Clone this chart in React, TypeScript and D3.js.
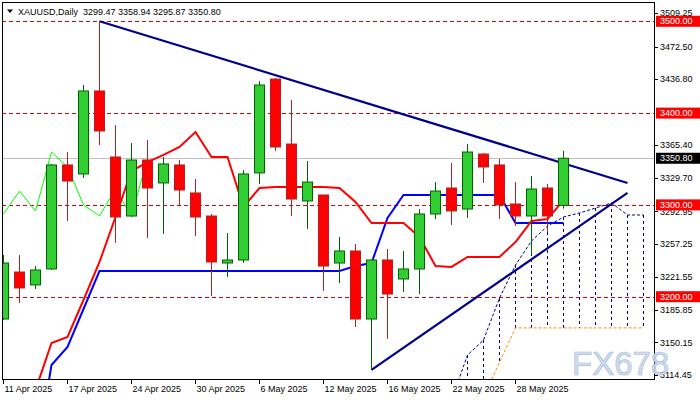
import React from "react";
import * as d3 from "d3";

// ---- data ----
const dates = [
  "2025-04-11","2025-04-14","2025-04-15","2025-04-16","2025-04-17","2025-04-21","2025-04-22","2025-04-23",
  "2025-04-24","2025-04-25","2025-04-28","2025-04-29","2025-04-30","2025-05-01","2025-05-02","2025-05-05",
  "2025-05-06","2025-05-07","2025-05-08","2025-05-09","2025-05-12","2025-05-13","2025-05-14","2025-05-15",
  "2025-05-16","2025-05-19","2025-05-20","2025-05-21","2025-05-22","2025-05-23","2025-05-26","2025-05-27",
  "2025-05-28","2025-05-29","2025-05-30","2025-06-02",
];
const open = [3175.7,3226.9,3212.8,3230.2,3343.5,3333.7,3424.1,3352.2,3287.9,3348.9,3323.9,3343.5,3313.0,3287.9,3236.7,3240.0,3334.8,3437.1,3366.3,3304.3,3310.8,3236.7,3249.8,3175.7,3240.0,3219.3,3230.2,3290.1,3318.4,3295.5,3355.4,3343.5,3301.0,3287.9,3318.4,3299.47];
const high = [3245.4,3245.4,3233.4,3344.6,3357.6,3430.6,3500.0,3387.0,3367.4,3370.7,3352.2,3348.9,3328.2,3290.1,3269.4,3338.0,3435.0,3438.2,3414.3,3347.8,3310.8,3265.0,3257.4,3240.0,3252.0,3249.8,3295.5,3324.9,3345.6,3366.3,3356.5,3350.0,3324.9,3331.5,3322.8,3358.94];
const low = [3174.6,3193.1,3208.4,3229.1,3282.5,3329.3,3365.3,3258.5,3286.8,3264.0,3268.3,3299.9,3266.1,3200.8,3221.5,3236.7,3322.8,3358.7,3287.9,3273.8,3206.2,3214.9,3167.0,3120.2,3154.0,3205.1,3202.9,3284.6,3278.1,3285.7,3323.9,3284.6,3277.0,3245.4,3270.5,3295.87];
const close = [3236.7,3209.5,3229.1,3343.5,3326.0,3424.1,3380.5,3286.8,3348.9,3318.4,3344.6,3316.2,3286.8,3237.8,3240.0,3333.7,3430.6,3363.1,3306.4,3324.9,3233.4,3249.8,3175.7,3240.0,3202.9,3230.2,3290.1,3315.1,3293.4,3357.6,3341.3,3299.9,3287.9,3317.3,3287.9,3350.80];

const tenkan = [null,null,3098.4,3149.6,3156.1,3196.4,3237.8,3286.8,3336.9,3346.7,3354.4,3363.1,3379.4,3352.2,3352.2,3297.7,3318.4,3319.5,3319.5,3319.5,3319.5,3318.4,3303.2,3280.3,3280.3,3280.3,3265.0,3233.4,3232.4,3243.3,3243.3,3243.3,3259.6,3282.5,3284.6,3305.3];
const kijun = [null,null,3021,3125.6,3145.2,3186.6,3228,3228,3228,3228,3228,3228,3228,3228,3228,3228,3228,3228,3228,3228,3228,3228,3233.4,3236.7,3285.7,3310.8,3310.8,3310.8,3310.8,3310.8,3310.8,3310.8,3280.3,3280.3,3280.3,3280.3];
const chikou = [3290.1,3315.1,3293.4,3357.6,3341.3,3299.9,3287.9,3317.3,3287.9,3350.8];

const cloudIdx = [28,29,30,31,32,33,34,35,36,37,38,39,40];
const spanA = [3087.4,3136.4,3152.8,3198.5,3234.5,3260.7,3277.0,3286.8,3291.2,3296.6,3302.1,3289.0,3289.0];
const spanB = [3010,3050,3090,3128.7,3166,3166,3166,3166,3166,3166,3166,3166,3166];

const upperTrend: [number, number][] = [[6, 3500], [39, 3323.9]];
const lowerTrend: [number, number][] = [[23, 3120.2], [39, 3313.0]];

const levels = [3500, 3400, 3300, 3200];
const lastPrice = 3350.8;
const priceTicks = [3509.25,3472.50,3436.80,3365.40,3329.70,3292.95,3257.25,3221.55,3185.85,3150.15,3114.45];
const dateTickIdx = [0,4,8,12,16,20,24,28,32];
const title = "XAUUSD,Daily  3299.47 3358.94 3295.87 3350.80";

export default function App() {
  const W = 700, H = 400;
  const L = 2, T = 2, R = 654, B = 379;
  const font = "'Liberation Sans', Arial, sans-serif";
  const fs = 9;

  const x = d3.scaleLinear().domain([0, 40]).range([3, 643]);
  const y = d3.scaleLinear().domain([3200, 3500]).range([296.7, 21.3]);
  const cx = (i: number) => x(i) + 0.5;
  const parse = d3.timeParse("%Y-%m-%d");
  const fmt = d3.timeFormat("%-d %b %Y");

  const pl = d3
    .line<[number, number | null]>()
    .defined((d) => d[1] != null)
    .x((d) => cx(d[0]))
    .y((d) => y(d[1] as number));

  const tenkanPath = pl(tenkan.map((v, i) => [i, v]));
  const kijunPath = pl(kijun.map((v, i) => [i, v]));
  const chikouPath = pl(chikou.map((v, i) => [i, v]));
  const spanAPath = pl(spanA.map((v, k) => [cloudIdx[k], v]));
  const spanBPath = pl(spanB.map((v, k) => [cloudIdx[k], v]));
  const upPath = pl(upperTrend);
  const loPath = pl(lowerTrend);

  return (
    <svg width={W} height={H} style={{ position: "absolute", left: 0, top: 0, background: "#fff" }} fontFamily={font}>
      <defs>
        <clipPath id="plot">
          <rect x={L + 1} y={T + 1} width={R - L - 1} height={B - T - 1} />
        </clipPath>
      </defs>
      <rect x={0} y={0} width={W} height={H} fill="#fff" />

      <g clipPath="url(#plot)">
        {/* levels */}
        {levels.map((lv) => (
          <line key={lv} x1={L} x2={R} y1={Math.round(y(lv)) + 0.5} y2={Math.round(y(lv)) + 0.5}
            stroke="#E00000" strokeWidth={1} strokeDasharray="4,3" />
        ))}
        <line x1={L} x2={R} y1={Math.round(y(lastPrice)) + 0.5} y2={Math.round(y(lastPrice)) + 0.5}
          stroke="#C0C0C0" strokeWidth={1} />

        {/* cloud hatching */}
        {cloudIdx.map((ci, k) => (
          <line key={"h" + ci} x1={cx(ci)} x2={cx(ci)} y1={y(spanA[k])} y2={y(spanB[k])}
            stroke="#000080" strokeWidth={1} strokeDasharray="3,3" />
        ))}
        <path d={spanAPath || ""} fill="none" stroke="#000080" strokeWidth={1} strokeDasharray="3,2" />
        <path d={spanBPath || ""} fill="none" stroke="#FF8C00" strokeWidth={1} strokeDasharray="3,2" />

        {/* ichimoku lines */}
        <path d={chikouPath || ""} fill="none" stroke="#00FF00" strokeWidth={1} />
        <path d={kijunPath || ""} fill="none" stroke="#0000FF" strokeWidth={2} />
        <path d={tenkanPath || ""} fill="none" stroke="#FF0000" strokeWidth={2} />

        {/* trendlines */}
        <path d={upPath || ""} fill="none" stroke="#00008B" strokeWidth={2.2} />
        <path d={loPath || ""} fill="none" stroke="#00008B" strokeWidth={2.2} />

        {/* candles */}
        {open.map((o, i) => {
          const c = close[i];
          const bull = c >= o;
          const stroke = bull ? "#006400" : "#B22222";
          const fill = bull ? "#32CD32" : "#FF0000";
          const top = y(Math.max(o, c));
          const bot = y(Math.min(o, c));
          const xc = cx(i);
          return (
            <g key={"c" + i}>
              <line x1={xc} x2={xc} y1={y(high[i])} y2={y(low[i])} stroke={stroke} strokeWidth={1} />
              <rect x={xc - 5} y={top} width={10} height={Math.max(1, bot - top)} fill={fill} stroke={stroke} strokeWidth={1} />
            </g>
          );
        })}
      </g>

      {/* frame */}
      <rect x={L + 0.5} y={T + 0.5} width={R - L} height={B - T} fill="none" stroke="#000" strokeWidth={1} />

      {/* price axis */}
      {priceTicks.map((p) => (
        <g key={"p" + p}>
          <line x1={R + 0.5} x2={R + 4} y1={Math.round(y(p)) + 0.5} y2={Math.round(y(p)) + 0.5} stroke="#000" />
          <text x={660} y={y(p)} dy="0.35em" fontSize={fs} fill="#000">{p.toFixed(2)}</text>
        </g>
      ))}
      {levels.map((lv) => (
        <g key={"lb" + lv}>
          <rect x={656} y={y(lv) - 5.5} width={44} height={11} fill="#FF0000" />
          <text x={660} y={y(lv)} dy="0.35em" fontSize={fs} fill="#fff">{lv.toFixed(2)}</text>
        </g>
      ))}
      <rect x={656} y={y(lastPrice) - 5.5} width={44} height={11} fill="#000" />
      <text x={660} y={y(lastPrice)} dy="0.35em" fontSize={fs} fill="#fff">{lastPrice.toFixed(2)}</text>

      {/* date axis */}
      {dateTickIdx.map((i) => (
        <g key={"d" + i}>
          <line x1={cx(i)} x2={cx(i)} y1={B + 0.5} y2={B + 5} stroke="#000" />
          <text x={cx(i) + 1} y={392} fontSize={fs} fill="#000">{fmt(parse(dates[i]) as Date)}</text>
        </g>
      ))}

      {/* title */}
      <polygon points="7,9.5 13,9.5 10,13" fill="#000" />
      <text x={18} y={15} fontSize={fs} fill="#000" style={{ whiteSpace: "pre" }}>{title}</text>

      {/* watermark */}
      <text x={572} y={375} fontSize={33} fontFamily={font} fill="#cddbee" stroke="#9fb5d5" strokeWidth={0.7} opacity={0.9}>FX678</text>
    </svg>
  );
}
